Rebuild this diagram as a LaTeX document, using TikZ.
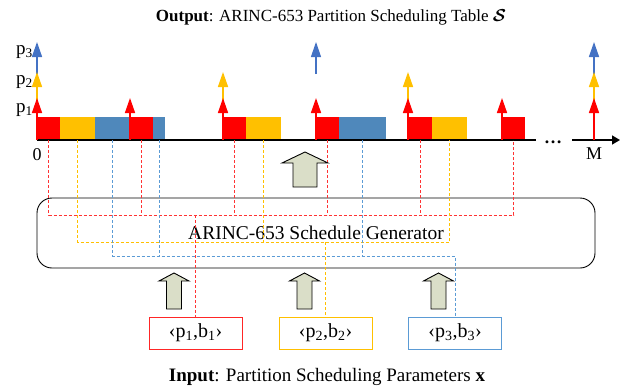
\documentclass[tikz,border=0pt]{standalone}
\usepackage{amsmath}
\usepackage{fontspec}
\setmainfont{Liberation Serif}
\usetikzlibrary{arrows.meta,calc}
\definecolor{pred}{HTML}{FF0000}
\definecolor{pyel}{HTML}{FFC000}
\definecolor{pblu}{HTML}{4F88BB}
\definecolor{ablu}{HTML}{4472C4}
\definecolor{bblu}{HTML}{5B9BD5}
\definecolor{agray}{HTML}{DADEC8}
\begin{document}
\begin{tikzpicture}[x=1pt,y=-1pt,
  bar/.style={inner sep=0pt,outer sep=0pt,minimum height=23pt,anchor=south west,draw=none},
  upar/.style={line width=1.5pt,-{Triangle[length=15pt,width=10pt]}},
  axisline/.style={line width=1.4pt,black},
  dsh/.style={line width=0.9pt,dash pattern=on 3pt off 2pt},
  rdash/.style={dsh,draw=pred!80},
  ydash/.style={dsh,draw=pyel},
  bdash/.style={dsh,draw=bblu},
  inbox/.style={draw,line width=1pt,minimum width=93pt,minimum height=32pt,inner sep=0pt,font=\fontsize{20}{22}\selectfont},
  plabel/.style={anchor=east,inner sep=0pt,font=\fontsize{19}{21}\selectfont},
  bigup/.pic={\draw[fill=agray,line width=0.9pt,line join=miter] (-12,0) -- (-12,-24) -- (-23,-24) -- (0,-35) -- (23,-24) -- (12,-24) -- (12,0) -- cycle;},
  smallup/.pic={\draw[fill=agray,line width=0.9pt,line join=miter] (-7.5,0) -- (-7.5,-28) -- (-15,-28) -- (0,-36) -- (15,-28) -- (7.5,-28) -- (7.5,0) -- cycle;}
]
\useasboundingbox (0,0) rectangle (620,388);

% levels
\coordinate (lv1) at (0,98);
\coordinate (lv2) at (0,72);
\coordinate (lv3) at (0,42);
\coordinate (rj) at (0,215);
\coordinate (yj) at (0,242);
\coordinate (bj) at (0,256);

% title
\node (title) at (331,17) {\fontsize{17}{19}\selectfont\textbf{Output}: ARINC-653 Partition Scheduling Table $\boldsymbol{\mathcal{S}}$};

% generator
\node[draw,line width=0.9pt,rounded corners=15pt,minimum width=558pt,minimum height=70pt,font=\fontsize{19.5}{22}\selectfont] (gen) at (316,233) {ARINC-653 Schedule Generator};

% bars
\node[bar,fill=pred,minimum width=23pt] (r1) at (37,140) {};
\node[bar,fill=pyel,minimum width=35pt] (y1) at (60,140) {};
\node[bar,fill=pblu,minimum width=35pt] (b1) at (95,140) {};
\node[bar,fill=pred,minimum width=23pt] (r2) at (130,140) {};
\node[bar,fill=pblu,minimum width=12pt] (b2) at (153,140) {};
\node[bar,fill=pred,minimum width=23pt] (r3) at (223,140) {};
\node[bar,fill=pyel,minimum width=35pt] (y2) at (246,140) {};
\node[bar,fill=pred,minimum width=23pt] (r4) at (316,140) {};
\node[bar,fill=pblu,minimum width=47pt] (b3) at (339,140) {};
\node[bar,fill=pred,minimum width=24pt] (r5) at (408,140) {};
\node[bar,fill=pyel,minimum width=35pt] (y3) at (432,140) {};
\node[bar,fill=pred,minimum width=23pt] (r6) at (502,140) {};

% axis
\coordinate (o) at (37,140);
\coordinate (e1) at (536,140);
\coordinate (e2) at (572,140);
\coordinate (e3) at (620,140);
\coordinate (mt) at (594,140);
\draw[axisline] (o) -- (e1);
\node[anchor=base,inner sep=0pt,font=\fontsize{18}{20}\selectfont] (dots) at (553,143) {\textbf{…}};
\draw[axisline,-{Triangle[length=8pt,width=9pt]}] (e2) -- (e3);
\node[font=\fontsize{18}{20}\selectfont,inner sep=0pt] (zero) at (37,155) {0};
\node[font=\fontsize{18}{20}\selectfont,inner sep=0pt] (mlab) at (594,154) {M};

% p labels
\node[plabel] (p3) at (33,52) {p\textsubscript{3}};
\node[plabel] (p2) at (33,82) {p\textsubscript{2}};
\node[plabel] (p1) at (33,110) {p\textsubscript{1}};

% release arrows
\draw[upar,ablu] (r1.south west) -- (r1.south west |- lv3);
\draw[upar,pyel] (r1.south west) -- (r1.south west |- lv2);
\draw[upar,pred] (r1.south west) -- (r1.south west |- lv1);
\draw[upar,pred] (r2.south west) -- (r2.south west |- lv1);
\draw[upar,pyel] (r3.south west) -- (r3.south west |- lv2);
\draw[upar,pred] (r3.south west) -- (r3.south west |- lv1);
\coordinate (fb) at (316,74);
\draw[upar,ablu,line width=1.2pt] (fb) -- (fb |- lv3);
\draw[upar,pred] (r4.south west) -- (r4.south west |- lv1);
\draw[upar,pyel] (r5.south west) -- (r5.south west |- lv2);
\draw[upar,pred] (r5.south west) -- (r5.south west |- lv1);
\draw[upar,pred] (r6.south west) -- (r6.south west |- lv1);
\draw[upar,ablu] (mt) -- (mt |- lv3);
\draw[upar,pyel] (mt) -- (mt |- lv2);
\draw[upar,pred] (mt) -- (mt |- lv1);

% input boxes
\node[inbox,draw=pred!85] (in1) at (195.5,333) {‹p\textsubscript{1},b\textsubscript{1}›};
\node[inbox,draw=pyel] (in2) at (325.5,333) {‹p\textsubscript{2},b\textsubscript{2}›};
\node[inbox,draw=bblu] (in3) at (455,333) {‹p\textsubscript{3},b\textsubscript{3}›};

% dashed mapping: red
\draw[rdash] (r1.south) |- (r6.south |- rj) -- (r6.south);
\foreach \n in {r2,r3,r4,r5} \draw[rdash] (\n.south) -- (\n.south |- rj);
\draw[rdash] (in1.north |- rj) -- (in1.north);
% yellow
\draw[ydash] (y1.south) |- (y3.south |- yj) -- (y3.south);
\draw[ydash] (y2.south) -- (y2.south |- yj);
\draw[ydash] (in2.north |- yj) -- (in2.north);
% blue
\draw[bdash] (b1.south) |- (in3.north |- bj) -- (in3.north);
\draw[bdash] (b2.south) -- (b2.south |- bj);
\draw[bdash] (b3.south) -- (b3.south |- bj);

% block arrows
\pic at (305,187) {bigup};
\pic at (174,309) {smallup};
\pic at (304.5,309) {smallup};
\pic at (438.5,309) {smallup};

% input label
\node (inlabel) at (327,377) {\fontsize{19}{21}\selectfont\textbf{Input}: Partition Scheduling Parameters \textbf{x}};
\end{tikzpicture}
\end{document}
